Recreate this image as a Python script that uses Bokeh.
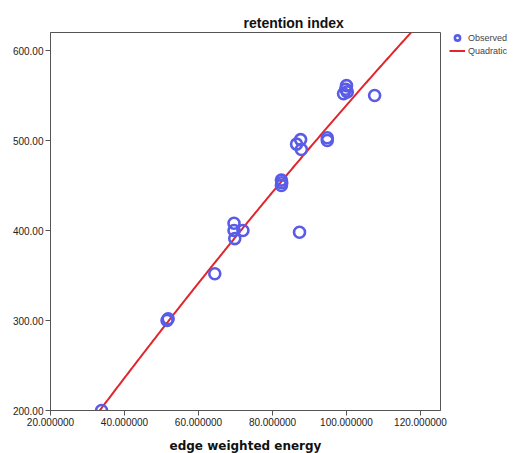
import numpy as np
from bokeh.plotting import figure
from bokeh.models import Range1d, Legend, LegendItem, NumeralTickFormatter, FixedTicker
from bokeh.embed import file_html
from bokeh.resources import INLINE

edge_energy = [33.8, 51.5, 51.8, 64.4, 69.6, 69.6, 72.0, 69.8, 87.3, 82.4, 82.5,
               82.4, 87.6, 86.5, 87.8, 94.8, 94.8, 100.0, 99.8, 99.2, 100.2, 107.6]
retention = [200, 300, 302, 352, 408, 400, 400, 391, 398, 456, 453,
             450, 501, 496, 490, 503, 500, 561, 557, 552, 554, 550]

x_ticks = [20, 40, 60, 80, 100, 120]
y_ticks = [200, 300, 400, 500, 600]

title_text = "retention index"
x_label = "edge weighted energy"

# Quadratic fit of the observed values (as in the reference's fit line)
coef = np.polyfit(edge_energy, retention, 2)
fit_x = np.linspace(20, 125.4, 300)
fit_y = np.polyval(coef, fit_x)

p = figure(frame_width=390, frame_height=378, output_backend="svg", toolbar_location=None,
           x_range=Range1d(20, 125.4), y_range=Range1d(200, 620),
           min_border_left=50, min_border_right=76, min_border_top=32, min_border_bottom=43,
           background_fill_color="white", border_fill_color="white",
           title=title_text)
p.grid.visible = False
p.outline_line_color = "#555555"
p.outline_line_width = 1

p.title.align = "left"
p.title.offset = 193
p.title.standoff = 4
p.title.text_font = "Liberation Sans"
p.title.text_font_style = "bold"
p.title.text_font_size = "14px"
p.title.text_color = "#111111"

line_r = p.line(fit_x, fit_y, line_color="#e0262c", line_width=2)
pts_r = p.scatter(edge_energy, retention, marker="circle", size=11, fill_color=None,
                  line_color="#5a5ce8", line_width=2.6)

for ax in (p.xaxis[0], p.yaxis[0]):
    ax.axis_line_color = "#555555"
    ax.major_tick_line_color = "#555555"
    ax.major_tick_in = 0
    ax.major_tick_out = 5
    ax.minor_tick_line_color = None
    ax.major_label_text_font = "Liberation Sans"
    ax.major_label_text_font_size = "10px"
    ax.major_label_text_color = "#222222"

p.xaxis.ticker = FixedTicker(ticks=x_ticks)
p.yaxis.ticker = FixedTicker(ticks=y_ticks)
p.xaxis.formatter = NumeralTickFormatter(format="0.000000")
p.yaxis.formatter = NumeralTickFormatter(format="0.00")
p.xaxis.major_label_standoff = 2
p.yaxis.major_label_standoff = 2

p.xaxis.axis_label = x_label
p.xaxis.axis_label_text_font = "DejaVu Sans"
p.xaxis.axis_label_text_font_style = "bold"
p.xaxis.axis_label_text_font_size = "12px"
p.xaxis.axis_label_text_color = "#111111"
p.xaxis.axis_label_standoff = 10

legend = Legend(items=[LegendItem(label="Observed", renderers=[pts_r]),
                       LegendItem(label="Quadratic", renderers=[line_r])],
                location=(9, 353), margin=0, padding=1, spacing=0,
                label_text_font="Liberation Sans", label_text_font_size="9px",
                label_standoff=3, glyph_width=16, glyph_height=13,
                label_height=13, border_line_color=None, background_fill_alpha=0)
p.add_layout(legend, "right")

open("out.html", "w").write(file_html(p, INLINE))
